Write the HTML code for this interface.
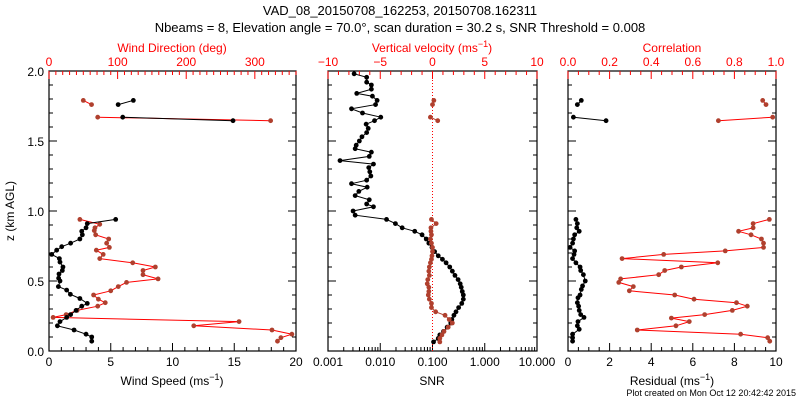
<!DOCTYPE html>
<html><head><meta charset="utf-8"><style>
body{margin:0;background:#fff;}
svg{display:block;font-family:"Liberation Sans",sans-serif;}
</style></head><body>
<svg id="chart" width="800" height="400">
<text x="400" y="15" font-size="13" text-anchor="middle">VAD_08_20150708_162253, 20150708.162311</text>
<text x="400" y="32" font-size="13" text-anchor="middle">Nbeams = 8, Elevation angle = 70.0°, scan duration = 30.2 s, SNR Threshold = 0.008</text>
<text x="796" y="396" font-size="9" text-anchor="end">Plot created on Mon Oct 12 20:42:42 2015</text>
<g id="g"></g>
</svg>
<script>
// ---- data ----
const zLow=[0.94,0.91,0.88,0.855,0.83,0.80,0.77,0.745,0.72,0.69,0.66,0.635,0.60,0.575,0.55,0.52,0.50,0.46,0.435,0.405,0.375,0.34,0.32,0.29,0.26,0.24,0.21,0.18,0.15,0.12,0.10,0.07];
const speedLow=[5.4,3.1,3.0,2.65,2.7,2.5,1.75,1.03,0.62,0.22,0.84,0.89,1.13,1.08,0.81,0.78,0.89,0.76,1.43,1.73,2.5,3.1,2.65,2.19,1.75,1.43,0.89,0.68,2.03,3.0,3.46,3.46];
const speedUpZ=[1.79,1.76,null,1.67,1.645];
const speedUp=[6.83,5.6,null,5.97,14.9];
const dirZ=[0.94,0.905,0.88,0.86,0.83,0.80,0.77,0.74,0.72,0.69,0.66,0.63,0.60,0.575,0.545,0.515,0.49,0.46,0.43,0.40,0.37,0.345,0.32,0.29,0.26,0.24,0.21,0.18,0.15,0.12,0.095,0.07];
const dirLow=[45,74,67,66,68,87,84,88,69,79,74,122,155,137,137,159,113,101,90,65,72,82,71,41,25,6,277,211,325,354,338,333];
const dirUpZ=[1.79,1.76,null,1.67,1.645];
const dirUp=[50,62,null,71,323];
const snrZ=[1.98,1.955,1.92,1.90,1.87,1.84,1.82,1.79,1.76,1.73,1.70,1.67,1.645,1.62,1.59,1.56,1.53,1.50,1.47,1.445,1.42,1.39,1.36,1.335,1.31,1.28,1.25,1.22,1.195,1.17,1.14,1.11,1.08,1.05,1.03,1.00,0.97,0.94,0.91,0.88,0.855,0.83,0.80,0.77,0.74,0.71,0.68,0.655,0.63,0.60,0.57,0.54,0.51,0.48,0.455,0.425,0.40,0.37,0.34,0.31,0.28,0.255,0.225,0.20,0.17,0.14,0.115,0.09,0.065];
const snrLog=[-2.50,-2.26,-2.26,-2.17,-2.17,-2.45,-2.15,-2.06,-2.09,-2.55,-2.34,-1.99,-2.11,-2.27,-2.23,-2.26,-2.35,-2.40,-2.46,-2.48,-2.17,-2.21,-2.77,-2.13,-2.22,-2.20,-2.18,-2.26,-2.55,-2.25,-2.41,-2.48,-2.21,-2.26,-2.13,-2.52,-2.48,-1.88,-1.71,-1.58,-1.34,-1.20,-1.12,-1.07,-1.01,-0.96,-0.89,-0.81,-0.74,-0.67,-0.62,-0.57,-0.51,-0.47,-0.45,-0.43,-0.41,-0.41,-0.44,-0.50,-0.55,-0.59,-0.63,-0.65,-0.72,-0.79,-0.86,-0.89,-0.98];
const wZ=[1.79,1.76,null,1.67,1.645,null,0.94,0.91,0.88,0.855,0.83,0.80,0.77,0.74,0.71,0.68,0.655,0.63,0.60,0.57,0.54,0.51,0.48,0.455,0.425,0.40,0.37,0.34,0.31,0.28,0.255,0.225,0.20,0.17,0.14,0.115,0.09,0.065];
const wVel=[0.13,0,null,-0.2,0.5,null,-0.1,0.35,-0.15,-0.15,-0.1,-0.2,-0.1,0,0,-0.05,-0.1,-0.2,-0.3,-0.35,-0.3,-0.45,-0.5,-0.35,-0.35,-0.4,-0.3,-0.1,-0.1,0.3,1.2,1.6,1.9,1.5,1.1,0.9,0.7,0.7];
const resZ=[1.79,1.76,null,1.67,1.645,null,0.94,0.91,0.88,0.855,0.83,0.80,0.77,0.74,0.715,0.69,0.66,0.63,0.60,0.575,0.545,0.50,0.465,0.44,0.40,0.38,0.345,0.32,0.29,0.26,0.24,0.21,0.18,0.155,0.12,0.095,0.07];
const resid=[0.64,0.45,null,0.26,1.83,null,0.38,0.45,0.42,0.54,0.32,0.26,0.22,0.1,0.32,0.29,0.22,0.38,0.58,0.61,0.74,0.83,0.7,0.64,0.58,0.48,0.45,0.51,0.54,0.61,0.77,0.48,0.45,0.54,0.22,0.22,0.22];
const corZ=[1.79,1.76,null,1.67,1.645,null,0.94,0.91,0.88,0.855,0.83,0.80,0.77,0.74,0.715,0.69,0.66,0.63,0.60,0.575,0.545,0.515,0.49,0.46,0.43,0.40,0.37,0.345,0.32,0.29,0.26,0.235,0.21,0.18,0.15,0.12,0.095,0.07];
const corr=[0.936,0.952,null,0.984,0.723,null,0.968,0.89,0.89,0.82,0.88,0.93,0.94,0.94,0.756,0.46,0.26,0.72,0.545,0.465,0.436,0.253,0.244,0.314,0.295,0.513,0.606,0.81,0.862,0.79,0.657,0.497,0.583,0.519,0.333,0.83,0.96,0.97];
// ---- drawing ----
const NS="http://www.w3.org/2000/svg",G=document.getElementById('g');
function el(t,a,p){const e=document.createElementNS(NS,t);for(const k in a)e.setAttribute(k,a[k]);(p||G).appendChild(e);return e;}
const Y0=351,Y1=71;const yS=z=>Y0-(z/2)*(Y0-Y1);
const P=[{x0:49,x1:296},{x0:328,x1:537},{x0:568,x1:776}];
const BR="#b0402e";
function lin(p,a,b){return v=>p.x0+(v-a)/(b-a)*(p.x1-p.x0);}
function series(xs,zs,fx,lc,mc,name){
  let d="",pen=false;
  for(let i=0;i<xs.length;i++){if(xs[i]==null||zs[i]==null){pen=false;continue;}
    d+=(pen?"L":"M")+fx(xs[i]).toFixed(1)+" "+yS(zs[i]).toFixed(1);pen=true;}
  const pth=el('path',{d:d,fill:'none',stroke:lc,'stroke-width':1});
  
  
  for(let i=0;i<xs.length;i++){if(xs[i]==null||zs[i]==null)continue;
    const c=el('circle',{cx:fx(xs[i]),cy:yS(zs[i]),r:2.4,fill:mc});
    
    }
}
function frame(p,name){
  const r=el('rect',{x:p.x0,y:Y1,width:p.x1-p.x0,height:Y0-Y1,fill:'none',stroke:'#000','stroke-width':1.2});
  
  
  for(let k=0;k<=20;k++){const y=yS(k*0.1),L=k%5==0?8:4;
    el('line',{x1:p.x0,x2:p.x0+L,y1:y,y2:y,stroke:'#000'});
    el('line',{x1:p.x1,x2:p.x1-L,y1:y,y2:y,stroke:'#000'});}
}
function xticks(p,fx,vals,majorStep,labels,top,col,name){
  const y=top?Y1:Y0,s=top?1:-1;
  vals.forEach(v=>{const isM=Math.abs(v/majorStep-Math.round(v/majorStep))<1e-6;
    el('line',{x1:fx(v),x2:fx(v),y1:y,y2:y+s*(isM?8:4),stroke:col});});
  labels.forEach(l=>{const t=el('text',{x:fx(l[0]),y:top?Y1-5:Y0+15,'font-size':12,'text-anchor':'middle',fill:col});t.textContent=l[1];
    
    });
}
function title(x,y,txt,col,name,sup){
  const t=el('text',{x:x,y:y,'font-size':12,'text-anchor':'middle',fill:col});
  t.textContent=txt;
  if(sup){const s=el('tspan',{dy:-5,'font-size':9},t);s.textContent=sup;const e=el('tspan',{dy:5},t);e.textContent=")";}
  
  
}
// Panel 1
const p1=P[0],fs=lin(p1,0,20),fd=lin(p1,0,360);
frame(p1,'wind-panel');
const r1=[];for(let v=0;v<=20;v++)r1.push(v);
xticks(p1,fs,r1,5,[[0,'0'],[5,'5'],[10,'10'],[15,'15'],[20,'20']],false,'#000','wind-speed');
const r1t=[];for(let v=0;v<=360;v+=10)r1t.push(v);
xticks(p1,fd,r1t,100,[[0,'0'],[100,'100'],[200,'200'],[300,'300']],true,'#f00','wind-direction');
[[0,'0.0'],[0.5,'0.5'],[1,'1.0'],[1.5,'1.5'],[2,'2.0']].forEach(l=>{const t=el('text',{x:44,y:yS(l[0])+5,'font-size':12,'text-anchor':'end'});t.textContent=l[1];
  
  });
const yt=el('text',{x:0,y:0,'font-size':12,'text-anchor':'middle',transform:'translate(14,211) rotate(-90)'});yt.textContent="z (km AGL)";


title(172,385,"Wind Speed (ms",'#000','wind-speed-title',"−1");
title(172,52,"Wind Direction (deg)",'#f00','wind-direction-title');
series(dirLow,dirZ,fd,'#f00',BR,'wind-direction');
series(dirUp,dirUpZ,fd,'#f00',BR,'wind-direction-upper');
series(speedLow,zLow,fs,'#000','#000','wind-speed');
series(speedUp,speedUpZ,fs,'#000','#000','wind-speed-upper');
// Panel 2
const p2=P[1],fl=lin(p2,-3,1),fv=lin(p2,-10,10);
frame(p2,'snr-panel');
const r2=[];for(let d=-3;d<1;d++)for(let m=1;m<10;m++)r2.push(d+Math.log10(m));r2.push(1);
xticks(p2,fl,r2,1,[[-3,'0.001'],[-2,'0.010'],[-1,'0.100'],[0,'1.000'],[1,'10.000']],false,'#000','snr');
const r2t=[];for(let v=-10;v<=10;v++)r2t.push(v);
xticks(p2,fv,r2t,5,[[-10,'−10'],[-5,'−5'],[0,'0'],[5,'5'],[10,'10']],true,'#f00','vertical-velocity');
const zl=el('line',{x1:fv(0),x2:fv(0),y1:Y1,y2:Y0,stroke:'#f00','stroke-dasharray':'1,2'});


title(432,385,"SNR",'#000','snr-title');
title(432,52,"Vertical velocity (ms",'#f00','vertical-velocity-title',"−1");
series(snrLog,snrZ,fl,'#000','#000','snr');
series(wVel,wZ,fv,BR,BR,'vertical-velocity');
// Panel 3
const p3=P[2],fr=lin(p3,0,10),fc=lin(p3,0,1);
frame(p3,'residual-panel');
const r3=[];for(let v=0;v<=10;v+=0.5)r3.push(v);
xticks(p3,fr,r3,2,[[0,'0'],[2,'2'],[4,'4'],[6,'6'],[8,'8'],[10,'10']],false,'#000','residual');
const r3t=[];for(let v=0;v<=20;v++)r3t.push(v/20);
xticks(p3,fc,r3t,0.2,[[0,'0.0'],[0.2,'0.2'],[0.4,'0.4'],[0.6,'0.6'],[0.8,'0.8'],[1,'1.0']],true,'#f00','correlation');
title(672,385,"Residual (ms",'#000','residual-title',"−1");
title(672,52,"Correlation",'#f00','correlation-title');
series(corr,corZ,fc,'#f00',BR,'correlation');
series(resid,resZ,fr,'#000','#000','residual');
</script>
</body></html>
